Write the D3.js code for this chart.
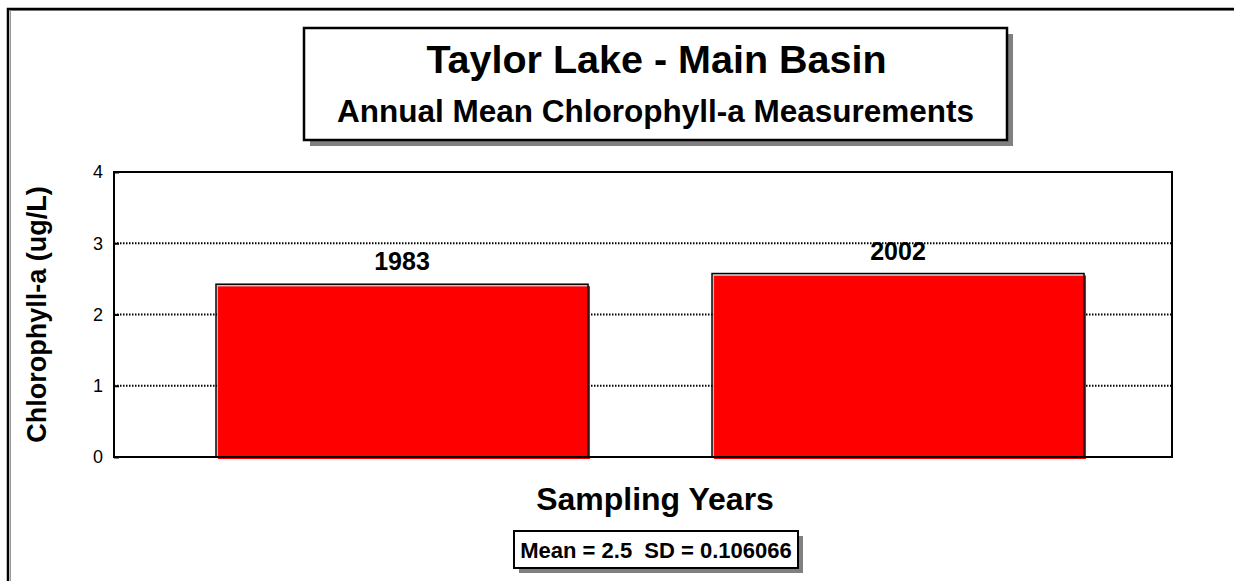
<!DOCTYPE html>
<html>
<head>
<meta charset="utf-8">
<script src="https://cdn.jsdelivr.net/npm/d3@7"></script>
<style>
  html, body { margin: 0; padding: 0; background: #fff; overflow: hidden; }
  svg { display: block; font-family: "Liberation Sans", Arial, sans-serif; }
</style>
</head>
<body>
<svg id="chart" width="1234" height="581"></svg>
<script>
// ---- data ----
const years = ["1983", "2002"];
const chlorophyll = [2.425, 2.575];
const yTicks = [0, 1, 2, 3, 4];
const titleText = "Taylor Lake - Main Basin";
const subtitleText = "Annual Mean Chlorophyll-a Measurements";
const xAxisTitle = "Sampling Years";
const yAxisTitle = "Chlorophyll-a (ug/L)";
const statsText = "Mean = 2.5  SD = 0.106066";

// ---- layout ----
const svg = d3.select("#chart");
const plot = { left: 114, right: 1172, top: 172, bottom: 457 };

// outer frame (left and top edges visible only)
svg.append("path").attr("d", "M10.5,600 V10.5 H1250")
  .attr("fill", "none").attr("stroke", "#999").attr("stroke-width", 1);
svg.append("path").attr("d", "M8,600 V9 H1250")
  .attr("fill", "none").attr("stroke", "#000").attr("stroke-width", 2.5);

const x = d3.scaleBand().domain(years).range([plot.left, plot.right])
  .paddingInner(0.25).paddingOuter(0.1915).align(0.537);
const y = d3.scaleLinear().domain([0, 4]).range([plot.bottom, plot.top]);

// gridlines
svg.append("g").selectAll("line").data(yTicks.filter(d => d > 0 && d < 4)).join("line")
  .attr("x1", plot.left).attr("x2", plot.right)
  .attr("y1", d => y(d)).attr("y2", d => y(d))
  .attr("stroke", "#000").attr("stroke-width", 2).attr("stroke-dasharray", "1.5,1.5");

// y axis ticks & labels
const yAxis = d3.axisLeft(y).tickValues(yTicks).tickSize(-5).tickPadding(11).tickFormat(d3.format("d"));
const ya = svg.append("g").attr("transform", `translate(${plot.left},0)`).call(yAxis)
  .attr("font-size", null).attr("font-family", null);
ya.select(".domain").remove();
ya.selectAll(".tick line").attr("stroke", "#000").attr("stroke-width", 2);
ya.selectAll(".tick text").style("font-size", "18px").attr("fill", "#000")
  .style("font-family", "'Liberation Sans', Arial, sans-serif");

// bars: red fill offset, black outline
const bars = svg.append("g");
bars.selectAll("rect.fill").data(years).join("rect").attr("class", "fill")
  .attr("x", d => x(d) + 2).attr("y", (d, i) => y(chlorophyll[i]) + 2)
  .attr("width", x.bandwidth()).attr("height", (d, i) => y(0) - y(chlorophyll[i]))
  .attr("fill", "#ff0000");
bars.selectAll("rect.inner").data(years).join("rect").attr("class", "inner")
  .attr("x", d => x(d) + 1.5).attr("y", (d, i) => y(chlorophyll[i]) + 1.5)
  .attr("width", x.bandwidth() - 1.5).attr("height", (d, i) => y(0) - y(chlorophyll[i]) - 1.5)
  .attr("fill", "none").attr("stroke", "#bbb").attr("stroke-width", 1);
bars.selectAll("rect.outline").data(years).join("rect").attr("class", "outline")
  .attr("x", d => x(d)).attr("y", (d, i) => y(chlorophyll[i]))
  .attr("width", x.bandwidth()).attr("height", (d, i) => y(0) - y(chlorophyll[i]))
  .attr("fill", "none").attr("stroke", "#000").attr("stroke-width", 1.5);

// bar labels
bars.selectAll("text").data(years).join("text")
  .attr("x", d => x(d) + x.bandwidth() / 2)
  .attr("y", (d, i) => y(chlorophyll[i]) - 14)
  .attr("text-anchor", "middle").style("font-size", "25px").attr("font-weight", "bold")
  .text(d => d);

// plot frame
svg.append("rect").attr("x", plot.left).attr("y", plot.top)
  .attr("width", plot.right - plot.left).attr("height", plot.bottom - plot.top)
  .attr("fill", "none").attr("stroke", "#000").attr("stroke-width", 2);

// y axis title
svg.append("text").attr("transform", `translate(46,${(plot.top + plot.bottom) / 2}) rotate(-90)`)
  .attr("text-anchor", "middle").style("font-size", "27px").attr("font-weight", "bold").text(yAxisTitle);

// x axis title
svg.append("text").attr("x", 655).attr("y", 510).attr("text-anchor", "middle")
  .style("font-size", "32px").attr("font-weight", "bold").text(xAxisTitle);

// title box
const tb = { x: 304, y: 28, w: 703, h: 112 };
svg.append("rect").attr("x", tb.x + 6).attr("y", tb.y + 6).attr("width", tb.w).attr("height", tb.h).attr("fill", "#808080");
svg.append("rect").attr("x", tb.x).attr("y", tb.y).attr("width", tb.w).attr("height", tb.h)
  .attr("fill", "#fff").attr("stroke", "#000").attr("stroke-width", 2.5);
svg.append("text").attr("x", tb.x + tb.w / 2 + 1).attr("y", 73).attr("text-anchor", "middle")
  .style("font-size", "39.5px").attr("font-weight", "bold").text(titleText);
svg.append("text").attr("x", tb.x + tb.w / 2).attr("y", 122).attr("text-anchor", "middle")
  .style("font-size", "31.5px").attr("font-weight", "bold").text(subtitleText);

// stats box
const sb = { x: 514, y: 531, w: 284, h: 37 };
svg.append("rect").attr("x", sb.x + 5).attr("y", sb.y + 5).attr("width", sb.w).attr("height", sb.h).attr("fill", "#808080");
svg.append("rect").attr("x", sb.x).attr("y", sb.y).attr("width", sb.w).attr("height", sb.h)
  .attr("fill", "#fff").attr("stroke", "#000").attr("stroke-width", 2);
svg.append("text").attr("x", sb.x + sb.w / 2).attr("y", 558).attr("text-anchor", "middle")
  .style("font-size", "22px").attr("font-weight", "bold")
  .style("white-space", "pre").text(statsText);
</script>
</body>
</html>
